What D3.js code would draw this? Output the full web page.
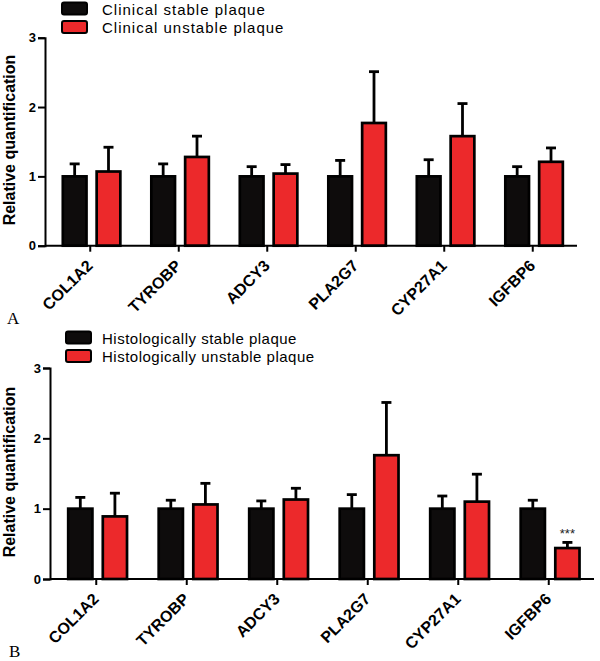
<!DOCTYPE html>
<html>
<head>
<meta charset="utf-8">
<script src="https://cdn.jsdelivr.net/npm/d3@7"></script>
<style>
  html, body { margin: 0; padding: 0; background: #fff; }
  svg { display: block; }
</style>
</head>
<body>
<svg id="chart" width="600" height="661"></svg>
<script>
const categories = ["COL1A2", "TYROBP", "ADCY3", "PLA2G7", "CYP27A1", "IGFBP6"];
const yTicks = [0, 1, 2, 3];

const clinicalStable = [1, 1, 1, 1, 1, 1];
const clinicalStableErr = [0.18, 0.18, 0.14, 0.23, 0.24, 0.14];
const clinicalUnstable = [1.07, 1.28, 1.04, 1.77, 1.58, 1.21];
const clinicalUnstableErr = [0.35, 0.30, 0.13, 0.74, 0.47, 0.20];

const histoStable = [1, 1, 1, 1, 1, 1];
const histoStableErr = [0.16, 0.12, 0.11, 0.20, 0.18, 0.12];
const histoUnstable = [0.89, 1.06, 1.13, 1.76, 1.10, 0.44];
const histoUnstableErr = [0.33, 0.30, 0.16, 0.75, 0.39, 0.08];

const legendA = ["Clinical stable plaque", "Clinical unstable plaque"];
const legendB = ["Histologically stable plaque", "Histologically unstable plaque"];
const significance = ["", "", "", "", "", "***"];

const BLACK = "#0e0c0c";
const RED = "#ec292b";
const FONT = "'Liberation Sans', Arial, sans-serif";
const svg = d3.select("#chart");

function drawPanel(cfg) {
  const g = svg.append("g");
  const x0 = d3.scaleBand().domain(categories).range([cfg.left + 1, cfg.right]).padding(0);
  const bw = x0.bandwidth();
  const x1 = d3.scaleBand().domain(["s", "u"]).range([bw * 0.19, bw * 0.84]).paddingInner(0.3);
  const y = d3.scaleLinear().domain([0, 3]).range([cfg.bottom, cfg.top]);

  const rows = categories.map((c, i) => ({
    cat: c,
    vals: [
      { key: "s", v: cfg.s[i], e: cfg.se[i], color: BLACK },
      { key: "u", v: cfg.u[i], e: cfg.ue[i], color: RED, sig: significance[i] && cfg.sig ? significance[i] : "" }
    ]
  }));

  const groups = g.selectAll("g.grp").data(rows).join("g")
    .attr("transform", d => `translate(${x0(d.cat)},0)`);

  const cells = groups.selectAll("g.cell").data(d => d.vals).join("g");
  const capW = 10;
  cells.append("line")
    .attr("x1", d => x1(d.key) + x1.bandwidth() / 2)
    .attr("x2", d => x1(d.key) + x1.bandwidth() / 2)
    .attr("y1", d => y(d.v))
    .attr("y2", d => y(d.v + d.e))
    .attr("stroke", "#000").attr("stroke-width", 2.8);
  cells.append("line")
    .attr("x1", d => x1(d.key) + x1.bandwidth() / 2 - capW / 2)
    .attr("x2", d => x1(d.key) + x1.bandwidth() / 2 + capW / 2)
    .attr("y1", d => y(d.v + d.e))
    .attr("y2", d => y(d.v + d.e))
    .attr("stroke", "#000").attr("stroke-width", 2.8);
  cells.append("rect")
    .attr("x", d => x1(d.key))
    .attr("width", x1.bandwidth())
    .attr("y", d => y(d.v))
    .attr("height", d => y(0) - y(d.v))
    .attr("fill", d => d.color)
    .attr("stroke", "#000").attr("stroke-width", 2.7);
  cells.filter(d => d.sig).append("text")
    .attr("x", d => x1(d.key) + x1.bandwidth() / 2)
    .attr("y", d => y(d.v + d.e) - 4)
    .attr("text-anchor", "middle")
    .attr("font-family", FONT)
    .attr("font-size", 13)
    .attr("fill", "#222")
    .text(d => d.sig);

  const yAxis = d3.axisLeft(y).tickValues(yTicks).tickFormat(d3.format("d")).tickSize(7).tickPadding(2);
  const ya = g.append("g").attr("transform", `translate(${cfg.left},0)`).call(yAxis);
  ya.select(".domain").attr("stroke", "#000").attr("stroke-width", 2);
  ya.selectAll(".tick line").attr("stroke", "#000").attr("stroke-width", 2);
  ya.selectAll(".tick text")
    .attr("font-family", FONT)
    .attr("font-weight", "bold").attr("font-size", 13).attr("fill", "#000");

  const xAxis = d3.axisBottom(x0).tickSize(6).tickFormat("");
  const xa = g.append("g").attr("transform", `translate(0,${cfg.bottom})`).call(xAxis);
  xa.select(".domain").attr("d", `M${cfg.left},0H${cfg.right}`).attr("stroke", "#000").attr("stroke-width", 2);
  xa.selectAll(".tick line").attr("stroke", "#000").attr("stroke-width", 2);
  xa.selectAll(".tick").append("text")
    .attr("transform", "translate(3.5,21) rotate(-45)")
    .attr("text-anchor", "end")
    .attr("font-family", FONT)
    .attr("font-weight", "bold").attr("font-size", 16).attr("fill", "#000")
    .text(d => d);

  g.append("text")
    .attr("transform", `translate(15,${cfg.labelY}) rotate(-90)`)
    .attr("text-anchor", "middle")
    .attr("font-family", FONT)
    .attr("font-weight", "bold").attr("font-size", 16).attr("fill", "#000")
    .text("Relative quantification");

  const lg = g.append("g");
  cfg.legend.forEach((t, i) => {
    lg.append("rect")
      .attr("x", cfg.legX).attr("y", cfg.legY + i * 18.5)
      .attr("width", 25).attr("height", 12).attr("rx", 2)
      .attr("fill", i === 0 ? BLACK : RED)
      .attr("stroke", "#000").attr("stroke-width", 2);
    lg.append("text")
      .attr("x", 102).attr("y", cfg.legY + i * 18.5 + 12)
      .attr("font-family", FONT)
      .attr("font-size", 15).attr("letter-spacing", cfg.ls).attr("fill", "#000")
      .text(t);
  });

  g.append("text")
    .attr("x", cfg.letterX).attr("y", cfg.letterY)
    .attr("font-family", "'Liberation Serif', 'Times New Roman', serif")
    .attr("font-size", 17).attr("fill", "#000")
    .text(cfg.letter);
}

drawPanel({
  left: 45, right: 577, top: 37.7, bottom: 245.7, labelY: 140,
  s: clinicalStable, se: clinicalStableErr, u: clinicalUnstable, ue: clinicalUnstableErr,
  legend: legendA, legX: 62, legY: 2.5, ls: 1,
  letter: "A", letterX: 7, letterY: 324, sig: false
});
drawPanel({
  left: 50, right: 594, top: 368, bottom: 579, labelY: 472,
  s: histoStable, se: histoStableErr, u: histoUnstable, ue: histoUnstableErr,
  legend: legendB, legX: 66, legY: 331.5, ls: 0.5,
  letter: "B", letterX: 9, letterY: 657, sig: true
});
</script>
</body>
</html>
